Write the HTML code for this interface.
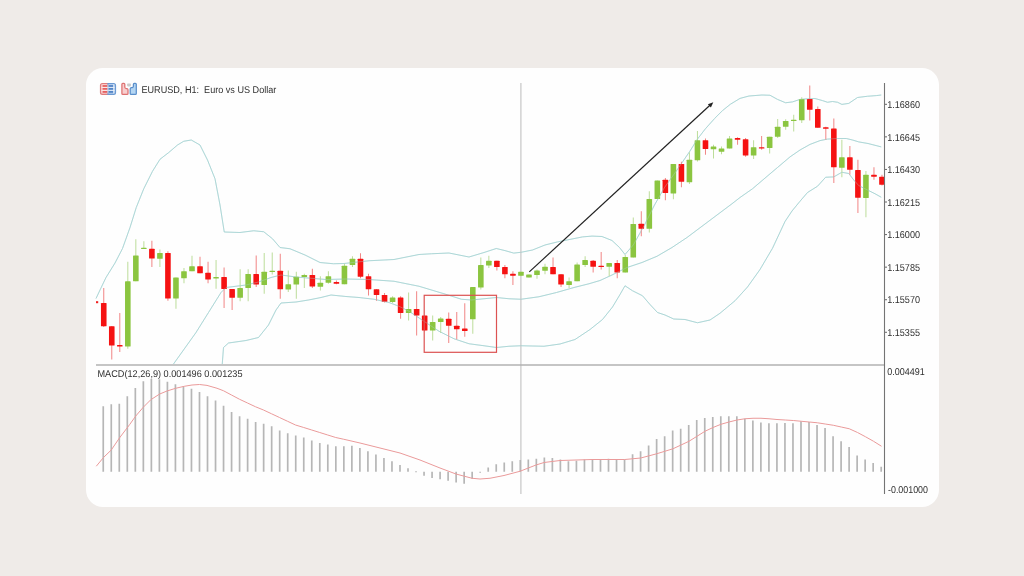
<!DOCTYPE html>
<html><head><meta charset="utf-8"><title>EURUSD H1</title>
<style>
html,body{margin:0;padding:0;}
body{width:1024px;height:576px;background:#efebe8;position:relative;overflow:hidden;font-family:"Liberation Sans",sans-serif;}
.card{position:absolute;left:86px;top:68px;width:853px;height:439px;background:#fefefe;border-radius:17px;}
text{font-family:"Liberation Sans",sans-serif;text-rendering:geometricPrecision;}
.ax{font-size:10px;fill:#303030;}
.hd{font-size:9.8px;fill:#303030;}
</style></head><body>
<div class="card"></div>
<svg width="1024" height="576" viewBox="0 0 1024 576" style="position:absolute;left:0;top:0;filter:blur(0.3px)">
<polyline points="96.00,298.50 100.00,290.00 106.00,277.50 115.00,263.00 122.50,248.50 130.00,227.50 136.25,207.50 143.75,188.75 152.50,171.25 160.00,159.25 168.75,152.50 177.50,145.00 183.75,141.25 191.25,140.00 200.00,145.00 207.50,160.00 215.00,178.75 220.00,205.00 224.25,232.00 240.00,232.50 253.75,230.75 263.75,231.75 272.50,238.75 280.00,247.50 290.00,248.75 305.00,255.00 320.00,262.50 333.50,263.75 344.00,263.50 369.00,260.75 394.00,259.50 419.00,254.50 431.50,253.75 449.00,253.00 469.00,257.00 484.00,252.50 496.25,248.50 505.00,250.60 513.75,253.10 521.25,252.25 532.50,250.00 545.00,245.00 557.50,241.90 570.00,239.40 582.50,236.90 592.00,236.10 602.00,236.50 612.00,240.50 619.50,247.50 625.00,254.50 633.25,245.00 644.50,225.00 654.50,205.00 664.50,187.50 677.00,170.00 690.00,151.00 697.50,139.00 705.30,128.90 714.70,118.40 722.50,110.60 730.30,104.30 740.00,98.40 749.00,96.00 762.00,95.00 770.00,95.25 777.50,99.40 785.60,102.75 792.50,101.90 800.00,99.40 807.50,98.75 815.00,98.50 822.50,100.60 827.50,102.25 832.50,101.50 837.50,102.25 841.90,104.40 848.75,103.40 857.50,97.50 867.50,96.25 876.25,95.60 881.25,95.00" fill="none" stroke="#a6d3d3" stroke-width="0.85" stroke-linejoin="round"/>
<polyline points="173.50,364.00 196.00,332.50 208.50,312.50 221.00,292.50 226.00,287.50 236.00,286.25 246.00,285.00 258.50,282.00 271.00,277.50 281.00,275.00 296.00,277.00 311.00,278.25 326.00,279.50 346.00,279.00 369.00,279.50 394.00,281.25 419.00,286.25 444.00,293.75 461.50,299.25 471.50,300.00 484.00,298.75 496.50,297.50 509.00,298.75 521.00,299.25 539.00,296.75 556.50,292.50 574.00,287.50 589.00,283.75 600.00,280.50 612.00,275.00 627.00,267.50 642.00,262.50 657.00,256.25 672.00,247.50 687.00,237.50 702.00,226.25 717.00,215.00 732.00,203.75 740.00,197.50 752.50,188.75 765.00,178.10 777.50,167.50 790.00,156.90 800.00,150.00 810.00,144.40 820.00,140.60 827.50,139.10 837.50,138.50 846.25,138.50 852.50,140.00 858.75,141.90 868.00,143.50 881.25,146.90" fill="none" stroke="#a6d3d3" stroke-width="0.85" stroke-linejoin="round"/>
<polyline points="222.25,364.00 223.50,347.50 228.50,343.00 246.00,340.50 258.50,337.50 268.50,325.00 276.00,310.00 281.00,303.00 296.00,302.00 308.50,300.00 321.00,297.50 331.00,295.00 346.00,296.50 359.00,297.50 374.00,299.25 389.00,302.50 399.00,306.25 409.00,311.25 424.00,321.25 439.00,331.25 454.00,338.75 469.00,343.75 484.00,345.75 496.50,347.50 509.00,346.25 521.00,345.75 544.00,346.25 560.00,344.00 575.00,339.50 590.00,329.50 602.50,319.50 612.50,307.00 620.00,294.50 625.00,285.75 632.50,290.75 642.50,295.75 650.00,304.50 657.50,312.50 665.00,315.00 673.75,319.00 685.00,319.50 697.50,322.75 710.00,320.00 720.00,313.25 735.00,300.75 747.50,287.00 760.00,269.50 772.50,248.25 785.00,221.50 792.00,211.00 800.00,201.25 807.50,192.50 817.50,186.25 825.60,177.25 833.75,176.90 841.90,172.25 848.75,173.50 853.75,180.00 858.75,185.60 867.50,190.00 875.00,193.75 881.25,197.25" fill="none" stroke="#a6d3d3" stroke-width="0.85" stroke-linejoin="round"/>
<line x1="520.9" y1="83" x2="520.9" y2="494" stroke="#c2c2c2" stroke-width="1.1"/>
<line x1="103.75" y1="288" x2="103.75" y2="327" stroke="#f18585" stroke-width="1"/>
<rect x="100.95" y="303" width="5.6" height="23.25" fill="#f51212" rx="0.6"/>
<line x1="111.77" y1="326" x2="111.77" y2="359.5" stroke="#f18585" stroke-width="1"/>
<rect x="108.97" y="326.25" width="5.6" height="19.25" fill="#f51212" rx="0.6"/>
<line x1="119.80" y1="313" x2="119.80" y2="352" stroke="#f18585" stroke-width="1"/>
<rect x="117.00" y="345" width="5.6" height="1.50" fill="#f51212" rx="0.6"/>
<line x1="127.82" y1="261.75" x2="127.82" y2="348.75" stroke="#bcdd9a" stroke-width="1"/>
<rect x="125.02" y="281.25" width="5.6" height="65.25" fill="#8bc540" rx="0.6"/>
<line x1="135.84" y1="239.25" x2="135.84" y2="281.25" stroke="#bcdd9a" stroke-width="1"/>
<rect x="133.04" y="255.5" width="5.6" height="25.75" fill="#8bc540" rx="0.6"/>
<line x1="143.87" y1="241.25" x2="143.87" y2="249" stroke="#bcdd9a" stroke-width="1"/>
<rect x="141.06" y="247.75" width="5.6" height="1.25" fill="#8bc540" rx="0.6"/>
<line x1="151.89" y1="240.75" x2="151.89" y2="267" stroke="#f18585" stroke-width="1"/>
<rect x="149.09" y="248.75" width="5.6" height="9.75" fill="#f51212" rx="0.6"/>
<line x1="159.91" y1="249.5" x2="159.91" y2="267" stroke="#bcdd9a" stroke-width="1"/>
<rect x="157.11" y="253" width="5.6" height="5.75" fill="#8bc540" rx="0.6"/>
<line x1="167.93" y1="251.25" x2="167.93" y2="300.75" stroke="#f18585" stroke-width="1"/>
<rect x="165.13" y="253" width="5.6" height="45.50" fill="#f51212" rx="0.6"/>
<line x1="175.96" y1="277.5" x2="175.96" y2="308.75" stroke="#bcdd9a" stroke-width="1"/>
<rect x="173.16" y="277.5" width="5.6" height="21.00" fill="#8bc540" rx="0.6"/>
<line x1="183.98" y1="268" x2="183.98" y2="283.25" stroke="#bcdd9a" stroke-width="1"/>
<rect x="181.18" y="271.25" width="5.6" height="7.00" fill="#8bc540" rx="0.6"/>
<line x1="192.00" y1="255.75" x2="192.00" y2="271.25" stroke="#bcdd9a" stroke-width="1"/>
<rect x="189.20" y="266.25" width="5.6" height="5.00" fill="#8bc540" rx="0.6"/>
<line x1="200.03" y1="256.75" x2="200.03" y2="273.25" stroke="#f18585" stroke-width="1"/>
<rect x="197.23" y="266.25" width="5.6" height="7.00" fill="#f51212" rx="0.6"/>
<line x1="208.05" y1="261.75" x2="208.05" y2="283.25" stroke="#f18585" stroke-width="1"/>
<rect x="205.25" y="272.75" width="5.6" height="6.75" fill="#f51212" rx="0.6"/>
<line x1="216.07" y1="260" x2="216.07" y2="288.75" stroke="#bcdd9a" stroke-width="1"/>
<rect x="213.27" y="277" width="5.6" height="1.50" fill="#8bc540" rx="0.6"/>
<line x1="224.09" y1="267.5" x2="224.09" y2="308" stroke="#f18585" stroke-width="1"/>
<rect x="221.29" y="277" width="5.6" height="12.00" fill="#f51212" rx="0.6"/>
<line x1="232.12" y1="289" x2="232.12" y2="310" stroke="#f18585" stroke-width="1"/>
<rect x="229.32" y="289" width="5.6" height="8.75" fill="#f51212" rx="0.6"/>
<line x1="240.14" y1="269.25" x2="240.14" y2="301.25" stroke="#bcdd9a" stroke-width="1"/>
<rect x="237.34" y="288" width="5.6" height="9.75" fill="#8bc540" rx="0.6"/>
<line x1="248.16" y1="269.25" x2="248.16" y2="301.25" stroke="#bcdd9a" stroke-width="1"/>
<rect x="245.36" y="274" width="5.6" height="14.00" fill="#8bc540" rx="0.6"/>
<line x1="256.19" y1="255.5" x2="256.19" y2="287" stroke="#f18585" stroke-width="1"/>
<rect x="253.39" y="274" width="5.6" height="10.50" fill="#f51212" rx="0.6"/>
<line x1="264.21" y1="253" x2="264.21" y2="293.75" stroke="#bcdd9a" stroke-width="1"/>
<rect x="261.41" y="271.75" width="5.6" height="13.25" fill="#8bc540" rx="0.6"/>
<line x1="272.23" y1="252.5" x2="272.23" y2="274.5" stroke="#bcdd9a" stroke-width="1"/>
<rect x="269.43" y="270.75" width="5.6" height="1.25" fill="#8bc540" rx="0.6"/>
<line x1="280.26" y1="253.75" x2="280.26" y2="298.75" stroke="#f18585" stroke-width="1"/>
<rect x="277.46" y="270.75" width="5.6" height="18.50" fill="#f51212" rx="0.6"/>
<line x1="288.28" y1="270.5" x2="288.28" y2="292" stroke="#bcdd9a" stroke-width="1"/>
<rect x="285.48" y="284.25" width="5.6" height="5.25" fill="#8bc540" rx="0.6"/>
<line x1="296.30" y1="271.75" x2="296.30" y2="298.75" stroke="#bcdd9a" stroke-width="1"/>
<rect x="293.50" y="276.75" width="5.6" height="7.75" fill="#8bc540" rx="0.6"/>
<line x1="304.32" y1="273.75" x2="304.32" y2="288" stroke="#bcdd9a" stroke-width="1"/>
<rect x="301.52" y="275" width="5.6" height="2.00" fill="#8bc540" rx="0.6"/>
<line x1="312.35" y1="268.75" x2="312.35" y2="288" stroke="#f18585" stroke-width="1"/>
<rect x="309.55" y="275" width="5.6" height="11.50" fill="#f51212" rx="0.6"/>
<line x1="320.37" y1="276.25" x2="320.37" y2="290.5" stroke="#bcdd9a" stroke-width="1"/>
<rect x="317.57" y="282.75" width="5.6" height="4.00" fill="#8bc540" rx="0.6"/>
<line x1="328.39" y1="271.25" x2="328.39" y2="283.75" stroke="#bcdd9a" stroke-width="1"/>
<rect x="325.59" y="276.25" width="5.6" height="6.50" fill="#8bc540" rx="0.6"/>
<line x1="336.42" y1="280.5" x2="336.42" y2="284.25" stroke="#f18585" stroke-width="1"/>
<rect x="333.62" y="282" width="5.6" height="1.75" fill="#f51212" rx="0.6"/>
<line x1="344.44" y1="263.75" x2="344.44" y2="284.25" stroke="#bcdd9a" stroke-width="1"/>
<rect x="341.64" y="265.75" width="5.6" height="18.50" fill="#8bc540" rx="0.6"/>
<line x1="352.46" y1="256.25" x2="352.46" y2="267" stroke="#bcdd9a" stroke-width="1"/>
<rect x="349.66" y="258.75" width="5.6" height="6.25" fill="#8bc540" rx="0.6"/>
<line x1="360.49" y1="253.25" x2="360.49" y2="278.25" stroke="#f18585" stroke-width="1"/>
<rect x="357.69" y="258.75" width="5.6" height="18.00" fill="#f51212" rx="0.6"/>
<line x1="368.51" y1="273.75" x2="368.51" y2="295.5" stroke="#f18585" stroke-width="1"/>
<rect x="365.71" y="276.25" width="5.6" height="13.00" fill="#f51212" rx="0.6"/>
<line x1="376.53" y1="289.25" x2="376.53" y2="300.75" stroke="#f18585" stroke-width="1"/>
<rect x="373.73" y="289.25" width="5.6" height="5.75" fill="#f51212" rx="0.6"/>
<line x1="384.56" y1="293" x2="384.56" y2="302.5" stroke="#f18585" stroke-width="1"/>
<rect x="381.75" y="295" width="5.6" height="6.75" fill="#f51212" rx="0.6"/>
<line x1="392.58" y1="296.25" x2="392.58" y2="303" stroke="#bcdd9a" stroke-width="1"/>
<rect x="389.78" y="297.5" width="5.6" height="4.50" fill="#8bc540" rx="0.6"/>
<line x1="400.60" y1="296.25" x2="400.60" y2="318.75" stroke="#f18585" stroke-width="1"/>
<rect x="397.80" y="297.5" width="5.6" height="15.50" fill="#f51212" rx="0.6"/>
<line x1="408.62" y1="292.5" x2="408.62" y2="320.5" stroke="#bcdd9a" stroke-width="1"/>
<rect x="405.82" y="309" width="5.6" height="4.00" fill="#8bc540" rx="0.6"/>
<line x1="416.65" y1="291.25" x2="416.65" y2="335.5" stroke="#f18585" stroke-width="1"/>
<rect x="413.85" y="309" width="5.6" height="6.50" fill="#f51212" rx="0.6"/>
<line x1="424.67" y1="315.5" x2="424.67" y2="331.25" stroke="#f18585" stroke-width="1"/>
<rect x="421.87" y="315.5" width="5.6" height="15.00" fill="#f51212" rx="0.6"/>
<line x1="432.69" y1="315.5" x2="432.69" y2="340.5" stroke="#bcdd9a" stroke-width="1"/>
<rect x="429.89" y="322" width="5.6" height="8.50" fill="#8bc540" rx="0.6"/>
<line x1="440.72" y1="317" x2="440.72" y2="333" stroke="#bcdd9a" stroke-width="1"/>
<rect x="437.92" y="318.5" width="5.6" height="3.50" fill="#8bc540" rx="0.6"/>
<line x1="448.74" y1="312.5" x2="448.74" y2="343" stroke="#f18585" stroke-width="1"/>
<rect x="445.94" y="318.75" width="5.6" height="7.00" fill="#f51212" rx="0.6"/>
<line x1="456.76" y1="312" x2="456.76" y2="339.5" stroke="#f18585" stroke-width="1"/>
<rect x="453.96" y="325.75" width="5.6" height="3.50" fill="#f51212" rx="0.6"/>
<line x1="464.78" y1="303.25" x2="464.78" y2="336.75" stroke="#f18585" stroke-width="1"/>
<rect x="461.98" y="328.5" width="5.6" height="2.50" fill="#f51212" rx="0.6"/>
<line x1="472.81" y1="287" x2="472.81" y2="333.75" stroke="#bcdd9a" stroke-width="1"/>
<rect x="470.01" y="287" width="5.6" height="32.25" fill="#8bc540" rx="0.6"/>
<line x1="480.83" y1="257.5" x2="480.83" y2="289.5" stroke="#bcdd9a" stroke-width="1"/>
<rect x="478.03" y="265" width="5.6" height="22.50" fill="#8bc540" rx="0.6"/>
<line x1="488.85" y1="255.75" x2="488.85" y2="268" stroke="#bcdd9a" stroke-width="1"/>
<rect x="486.05" y="260.75" width="5.6" height="4.75" fill="#8bc540" rx="0.6"/>
<line x1="496.88" y1="260.75" x2="496.88" y2="270.5" stroke="#f18585" stroke-width="1"/>
<rect x="494.08" y="260.75" width="5.6" height="6.25" fill="#f51212" rx="0.6"/>
<line x1="504.90" y1="265" x2="504.90" y2="278.25" stroke="#f18585" stroke-width="1"/>
<rect x="502.10" y="267" width="5.6" height="7.25" fill="#f51212" rx="0.6"/>
<line x1="512.92" y1="271.25" x2="512.92" y2="285" stroke="#f18585" stroke-width="1"/>
<rect x="510.12" y="273.75" width="5.6" height="2.00" fill="#f51212" rx="0.6"/>
<line x1="520.95" y1="271.75" x2="520.95" y2="276.25" stroke="#bcdd9a" stroke-width="1"/>
<rect x="518.15" y="271.75" width="5.6" height="4.00" fill="#8bc540" rx="0.6"/>
<line x1="528.97" y1="274.5" x2="528.97" y2="277.5" stroke="#bcdd9a" stroke-width="1"/>
<rect x="526.17" y="274.5" width="5.6" height="3.00" fill="#8bc540" rx="0.6"/>
<line x1="536.99" y1="269.5" x2="536.99" y2="278.75" stroke="#bcdd9a" stroke-width="1"/>
<rect x="534.19" y="270.5" width="5.6" height="4.50" fill="#8bc540" rx="0.6"/>
<line x1="545.01" y1="263.75" x2="545.01" y2="274.25" stroke="#bcdd9a" stroke-width="1"/>
<rect x="542.22" y="266.75" width="5.6" height="4.00" fill="#8bc540" rx="0.6"/>
<line x1="553.04" y1="257.5" x2="553.04" y2="274.25" stroke="#f18585" stroke-width="1"/>
<rect x="550.24" y="267" width="5.6" height="7.25" fill="#f51212" rx="0.6"/>
<line x1="561.06" y1="274.25" x2="561.06" y2="287" stroke="#f18585" stroke-width="1"/>
<rect x="558.26" y="274.25" width="5.6" height="10.25" fill="#f51212" rx="0.6"/>
<line x1="569.08" y1="277.5" x2="569.08" y2="288" stroke="#bcdd9a" stroke-width="1"/>
<rect x="566.28" y="281.25" width="5.6" height="3.75" fill="#8bc540" rx="0.6"/>
<line x1="577.11" y1="262.5" x2="577.11" y2="281.25" stroke="#bcdd9a" stroke-width="1"/>
<rect x="574.31" y="264.5" width="5.6" height="16.75" fill="#8bc540" rx="0.6"/>
<line x1="585.13" y1="256.25" x2="585.13" y2="267" stroke="#bcdd9a" stroke-width="1"/>
<rect x="582.33" y="260" width="5.6" height="5.00" fill="#8bc540" rx="0.6"/>
<line x1="593.15" y1="260" x2="593.15" y2="272.5" stroke="#f18585" stroke-width="1"/>
<rect x="590.35" y="260.75" width="5.6" height="6.00" fill="#f51212" rx="0.6"/>
<line x1="601.18" y1="252" x2="601.18" y2="269.5" stroke="#f18585" stroke-width="1"/>
<rect x="598.38" y="265.75" width="5.6" height="1.25" fill="#f51212" rx="0.6"/>
<line x1="609.20" y1="263" x2="609.20" y2="276.25" stroke="#bcdd9a" stroke-width="1"/>
<rect x="606.40" y="263" width="5.6" height="3.75" fill="#8bc540" rx="0.6"/>
<line x1="617.22" y1="260" x2="617.22" y2="278.25" stroke="#f18585" stroke-width="1"/>
<rect x="614.42" y="263" width="5.6" height="9.50" fill="#f51212" rx="0.6"/>
<line x1="625.25" y1="255" x2="625.25" y2="272.5" stroke="#bcdd9a" stroke-width="1"/>
<rect x="622.45" y="257" width="5.6" height="15.50" fill="#8bc540" rx="0.6"/>
<line x1="633.27" y1="217.5" x2="633.27" y2="257.5" stroke="#bcdd9a" stroke-width="1"/>
<rect x="630.47" y="224" width="5.6" height="33.50" fill="#8bc540" rx="0.6"/>
<line x1="641.29" y1="211.25" x2="641.29" y2="236.25" stroke="#f18585" stroke-width="1"/>
<rect x="638.49" y="223.75" width="5.6" height="5.00" fill="#f51212" rx="0.6"/>
<line x1="649.31" y1="191.25" x2="649.31" y2="232.5" stroke="#bcdd9a" stroke-width="1"/>
<rect x="646.51" y="199" width="5.6" height="29.75" fill="#8bc540" rx="0.6"/>
<line x1="657.34" y1="180.5" x2="657.34" y2="199" stroke="#bcdd9a" stroke-width="1"/>
<rect x="654.54" y="180.5" width="5.6" height="18.50" fill="#8bc540" rx="0.6"/>
<line x1="665.36" y1="178" x2="665.36" y2="200.25" stroke="#f18585" stroke-width="1"/>
<rect x="662.56" y="179.75" width="5.6" height="13.25" fill="#f51212" rx="0.6"/>
<line x1="673.38" y1="164" x2="673.38" y2="199.25" stroke="#bcdd9a" stroke-width="1"/>
<rect x="670.58" y="164" width="5.6" height="29.50" fill="#8bc540" rx="0.6"/>
<line x1="681.41" y1="161.75" x2="681.41" y2="187.25" stroke="#f18585" stroke-width="1"/>
<rect x="678.61" y="164" width="5.6" height="17.75" fill="#f51212" rx="0.6"/>
<line x1="689.43" y1="152.25" x2="689.43" y2="184" stroke="#bcdd9a" stroke-width="1"/>
<rect x="686.63" y="159.75" width="5.6" height="22.50" fill="#8bc540" rx="0.6"/>
<line x1="697.45" y1="131" x2="697.45" y2="161.5" stroke="#bcdd9a" stroke-width="1"/>
<rect x="694.65" y="140.25" width="5.6" height="20.00" fill="#8bc540" rx="0.6"/>
<line x1="705.48" y1="138.5" x2="705.48" y2="154.75" stroke="#f18585" stroke-width="1"/>
<rect x="702.68" y="140.25" width="5.6" height="8.75" fill="#f51212" rx="0.6"/>
<line x1="713.50" y1="144.75" x2="713.50" y2="158.5" stroke="#bcdd9a" stroke-width="1"/>
<rect x="710.70" y="146.5" width="5.6" height="2.75" fill="#8bc540" rx="0.6"/>
<line x1="721.52" y1="146.5" x2="721.52" y2="154.25" stroke="#bcdd9a" stroke-width="1"/>
<rect x="718.72" y="148.5" width="5.6" height="3.25" fill="#8bc540" rx="0.6"/>
<line x1="729.54" y1="136" x2="729.54" y2="148.5" stroke="#bcdd9a" stroke-width="1"/>
<rect x="726.74" y="138.5" width="5.6" height="10.00" fill="#8bc540" rx="0.6"/>
<line x1="737.57" y1="137.25" x2="737.57" y2="144.75" stroke="#f18585" stroke-width="1"/>
<rect x="734.77" y="138" width="5.6" height="1.75" fill="#f51212" rx="0.6"/>
<line x1="745.59" y1="138" x2="745.59" y2="156.75" stroke="#f18585" stroke-width="1"/>
<rect x="742.79" y="139.25" width="5.6" height="16.25" fill="#f51212" rx="0.6"/>
<line x1="753.61" y1="140.25" x2="753.61" y2="159" stroke="#bcdd9a" stroke-width="1"/>
<rect x="750.81" y="147.25" width="5.6" height="8.25" fill="#8bc540" rx="0.6"/>
<line x1="761.64" y1="136" x2="761.64" y2="149.75" stroke="#f18585" stroke-width="1"/>
<rect x="758.84" y="147.25" width="5.6" height="1.25" fill="#f51212" rx="0.6"/>
<line x1="769.66" y1="136.75" x2="769.66" y2="153.5" stroke="#bcdd9a" stroke-width="1"/>
<rect x="766.86" y="136.75" width="5.6" height="11.25" fill="#8bc540" rx="0.6"/>
<line x1="777.68" y1="119" x2="777.68" y2="138" stroke="#bcdd9a" stroke-width="1"/>
<rect x="774.88" y="126.75" width="5.6" height="10.00" fill="#8bc540" rx="0.6"/>
<line x1="785.70" y1="119.25" x2="785.70" y2="129.75" stroke="#bcdd9a" stroke-width="1"/>
<rect x="782.90" y="121" width="5.6" height="5.75" fill="#8bc540" rx="0.6"/>
<line x1="793.73" y1="114.75" x2="793.73" y2="131.5" stroke="#bcdd9a" stroke-width="1"/>
<rect x="790.93" y="119.75" width="5.6" height="1.25" fill="#8bc540" rx="0.6"/>
<line x1="801.75" y1="97.25" x2="801.75" y2="123" stroke="#bcdd9a" stroke-width="1"/>
<rect x="798.95" y="99" width="5.6" height="21.25" fill="#8bc540" rx="0.6"/>
<line x1="809.77" y1="85.5" x2="809.77" y2="120.5" stroke="#f18585" stroke-width="1"/>
<rect x="806.97" y="99" width="5.6" height="10.75" fill="#f51212" rx="0.6"/>
<line x1="817.80" y1="106.5" x2="817.80" y2="127.75" stroke="#f18585" stroke-width="1"/>
<rect x="815.00" y="109" width="5.6" height="18.75" fill="#f51212" rx="0.6"/>
<line x1="825.82" y1="126.75" x2="825.82" y2="139.75" stroke="#f18585" stroke-width="1"/>
<rect x="823.02" y="127.25" width="5.6" height="1.50" fill="#f51212" rx="0.6"/>
<line x1="833.84" y1="118.5" x2="833.84" y2="183" stroke="#f18585" stroke-width="1"/>
<rect x="831.04" y="128.5" width="5.6" height="38.75" fill="#f51212" rx="0.6"/>
<line x1="841.87" y1="139.75" x2="841.87" y2="177.25" stroke="#bcdd9a" stroke-width="1"/>
<rect x="839.07" y="157.25" width="5.6" height="10.50" fill="#8bc540" rx="0.6"/>
<line x1="849.89" y1="146" x2="849.89" y2="174.75" stroke="#f18585" stroke-width="1"/>
<rect x="847.09" y="157.25" width="5.6" height="12.50" fill="#f51212" rx="0.6"/>
<line x1="857.91" y1="159.75" x2="857.91" y2="213" stroke="#f18585" stroke-width="1"/>
<rect x="855.11" y="170" width="5.6" height="27.75" fill="#f51212" rx="0.6"/>
<line x1="865.93" y1="171" x2="865.93" y2="217.25" stroke="#bcdd9a" stroke-width="1"/>
<rect x="863.13" y="174.75" width="5.6" height="23.25" fill="#8bc540" rx="0.6"/>
<line x1="873.96" y1="167.25" x2="873.96" y2="179.75" stroke="#f18585" stroke-width="1"/>
<rect x="871.16" y="174.75" width="5.6" height="2.00" fill="#f51212" rx="0.6"/>
<line x1="881.98" y1="174.75" x2="881.98" y2="185.5" stroke="#f18585" stroke-width="1"/>
<rect x="879.18" y="176.75" width="5.6" height="8.00" fill="#f51212" rx="0.6"/>
<polyline points="96.00,298.50 100.00,290.00 106.00,277.50 115.00,263.00 122.50,248.50 130.00,227.50 136.25,207.50 143.75,188.75 152.50,171.25 160.00,159.25 168.75,152.50 177.50,145.00 183.75,141.25 191.25,140.00 200.00,145.00 207.50,160.00 215.00,178.75 220.00,205.00 224.25,232.00 240.00,232.50 253.75,230.75 263.75,231.75 272.50,238.75 280.00,247.50 290.00,248.75 305.00,255.00 320.00,262.50 333.50,263.75 344.00,263.50 369.00,260.75 394.00,259.50 419.00,254.50 431.50,253.75 449.00,253.00 469.00,257.00 484.00,252.50 496.25,248.50 505.00,250.60 513.75,253.10 521.25,252.25 532.50,250.00 545.00,245.00 557.50,241.90 570.00,239.40 582.50,236.90 592.00,236.10 602.00,236.50 612.00,240.50 619.50,247.50 625.00,254.50 633.25,245.00 644.50,225.00 654.50,205.00 664.50,187.50 677.00,170.00 690.00,151.00 697.50,139.00 705.30,128.90 714.70,118.40 722.50,110.60 730.30,104.30 740.00,98.40 749.00,96.00 762.00,95.00 770.00,95.25 777.50,99.40 785.60,102.75 792.50,101.90 800.00,99.40 807.50,98.75 815.00,98.50 822.50,100.60 827.50,102.25 832.50,101.50 837.50,102.25 841.90,104.40 848.75,103.40 857.50,97.50 867.50,96.25 876.25,95.60 881.25,95.00" fill="none" stroke="#a6d3d3" stroke-opacity="0.45" stroke-width="0.85" stroke-linejoin="round"/>
<polyline points="173.50,364.00 196.00,332.50 208.50,312.50 221.00,292.50 226.00,287.50 236.00,286.25 246.00,285.00 258.50,282.00 271.00,277.50 281.00,275.00 296.00,277.00 311.00,278.25 326.00,279.50 346.00,279.00 369.00,279.50 394.00,281.25 419.00,286.25 444.00,293.75 461.50,299.25 471.50,300.00 484.00,298.75 496.50,297.50 509.00,298.75 521.00,299.25 539.00,296.75 556.50,292.50 574.00,287.50 589.00,283.75 600.00,280.50 612.00,275.00 627.00,267.50 642.00,262.50 657.00,256.25 672.00,247.50 687.00,237.50 702.00,226.25 717.00,215.00 732.00,203.75 740.00,197.50 752.50,188.75 765.00,178.10 777.50,167.50 790.00,156.90 800.00,150.00 810.00,144.40 820.00,140.60 827.50,139.10 837.50,138.50 846.25,138.50 852.50,140.00 858.75,141.90 868.00,143.50 881.25,146.90" fill="none" stroke="#a6d3d3" stroke-opacity="0.45" stroke-width="0.85" stroke-linejoin="round"/>
<polyline points="222.25,364.00 223.50,347.50 228.50,343.00 246.00,340.50 258.50,337.50 268.50,325.00 276.00,310.00 281.00,303.00 296.00,302.00 308.50,300.00 321.00,297.50 331.00,295.00 346.00,296.50 359.00,297.50 374.00,299.25 389.00,302.50 399.00,306.25 409.00,311.25 424.00,321.25 439.00,331.25 454.00,338.75 469.00,343.75 484.00,345.75 496.50,347.50 509.00,346.25 521.00,345.75 544.00,346.25 560.00,344.00 575.00,339.50 590.00,329.50 602.50,319.50 612.50,307.00 620.00,294.50 625.00,285.75 632.50,290.75 642.50,295.75 650.00,304.50 657.50,312.50 665.00,315.00 673.75,319.00 685.00,319.50 697.50,322.75 710.00,320.00 720.00,313.25 735.00,300.75 747.50,287.00 760.00,269.50 772.50,248.25 785.00,221.50 792.00,211.00 800.00,201.25 807.50,192.50 817.50,186.25 825.60,177.25 833.75,176.90 841.90,172.25 848.75,173.50 853.75,180.00 858.75,185.60 867.50,190.00 875.00,193.75 881.25,197.25" fill="none" stroke="#a6d3d3" stroke-opacity="0.45" stroke-width="0.85" stroke-linejoin="round"/>
<rect x="96" y="301.2" width="2.2" height="2" fill="#f02020"/>
<rect x="424.2" y="295.3" width="72.3" height="57" fill="none" stroke="#dc5252" stroke-width="1.2"/>
<line x1="529.3" y1="271.9" x2="710.2" y2="105" stroke="#222" stroke-width="1.2"/>
<polygon points="713.3,102.2 707.9,104.2 710.9,107.5" fill="#222"/>
<line x1="96" y1="365" x2="884.5" y2="365" stroke="#b2b2b2" stroke-width="1.7"/>
<line x1="884.5" y1="83" x2="884.5" y2="494" stroke="#747474" stroke-width="1.1"/>
<line x1="885" y1="104.30" x2="887" y2="104.30" stroke="#666" stroke-width="1"/>
<text x="887.2" y="108.00" class="ax" textLength="32.8" lengthAdjust="spacingAndGlyphs">1.16860</text>
<line x1="885" y1="136.87" x2="887" y2="136.87" stroke="#666" stroke-width="1"/>
<text x="887.2" y="140.57" class="ax" textLength="32.8" lengthAdjust="spacingAndGlyphs">1.16645</text>
<line x1="885" y1="169.44" x2="887" y2="169.44" stroke="#666" stroke-width="1"/>
<text x="887.2" y="173.14" class="ax" textLength="32.8" lengthAdjust="spacingAndGlyphs">1.16430</text>
<line x1="885" y1="202.01" x2="887" y2="202.01" stroke="#666" stroke-width="1"/>
<text x="887.2" y="205.71" class="ax" textLength="32.8" lengthAdjust="spacingAndGlyphs">1.16215</text>
<line x1="885" y1="234.58" x2="887" y2="234.58" stroke="#666" stroke-width="1"/>
<text x="887.2" y="238.28" class="ax" textLength="32.8" lengthAdjust="spacingAndGlyphs">1.16000</text>
<line x1="885" y1="267.15" x2="887" y2="267.15" stroke="#666" stroke-width="1"/>
<text x="887.2" y="270.85" class="ax" textLength="32.8" lengthAdjust="spacingAndGlyphs">1.15785</text>
<line x1="885" y1="299.72" x2="887" y2="299.72" stroke="#666" stroke-width="1"/>
<text x="887.2" y="303.42" class="ax" textLength="32.8" lengthAdjust="spacingAndGlyphs">1.15570</text>
<line x1="885" y1="332.29" x2="887" y2="332.29" stroke="#666" stroke-width="1"/>
<text x="887.2" y="335.99" class="ax" textLength="32.8" lengthAdjust="spacingAndGlyphs">1.15355</text>
<text x="887.3" y="375" class="ax" textLength="37.5" lengthAdjust="spacingAndGlyphs">0.004491</text>
<text x="888" y="493.3" class="ax" textLength="40" lengthAdjust="spacingAndGlyphs">-0.001000</text>
<line x1="103.25" y1="406.25" x2="103.25" y2="471.75" stroke="#b6b6b6" stroke-width="1.7"/>
<line x1="111.27" y1="404.25" x2="111.27" y2="471.75" stroke="#b6b6b6" stroke-width="1.7"/>
<line x1="119.29" y1="403.75" x2="119.29" y2="471.75" stroke="#b6b6b6" stroke-width="1.7"/>
<line x1="127.31" y1="396.25" x2="127.31" y2="471.75" stroke="#b6b6b6" stroke-width="1.7"/>
<line x1="135.33" y1="388" x2="135.33" y2="471.75" stroke="#b6b6b6" stroke-width="1.7"/>
<line x1="143.35" y1="381.25" x2="143.35" y2="471.75" stroke="#b6b6b6" stroke-width="1.7"/>
<line x1="151.37" y1="378.75" x2="151.37" y2="471.75" stroke="#b6b6b6" stroke-width="1.7"/>
<line x1="159.39" y1="379.25" x2="159.39" y2="471.75" stroke="#b6b6b6" stroke-width="1.7"/>
<line x1="167.41" y1="381.75" x2="167.41" y2="471.75" stroke="#b6b6b6" stroke-width="1.7"/>
<line x1="175.43" y1="384.25" x2="175.43" y2="471.75" stroke="#b6b6b6" stroke-width="1.7"/>
<line x1="183.45" y1="386.25" x2="183.45" y2="471.75" stroke="#b6b6b6" stroke-width="1.7"/>
<line x1="191.47" y1="388.75" x2="191.47" y2="471.75" stroke="#b6b6b6" stroke-width="1.7"/>
<line x1="199.49" y1="392" x2="199.49" y2="471.75" stroke="#b6b6b6" stroke-width="1.7"/>
<line x1="207.51" y1="396.25" x2="207.51" y2="471.75" stroke="#b6b6b6" stroke-width="1.7"/>
<line x1="215.53" y1="400.5" x2="215.53" y2="471.75" stroke="#b6b6b6" stroke-width="1.7"/>
<line x1="223.55" y1="405.75" x2="223.55" y2="471.75" stroke="#b6b6b6" stroke-width="1.7"/>
<line x1="231.57" y1="412" x2="231.57" y2="471.75" stroke="#b6b6b6" stroke-width="1.7"/>
<line x1="239.59" y1="416.25" x2="239.59" y2="471.75" stroke="#b6b6b6" stroke-width="1.7"/>
<line x1="247.61" y1="418.75" x2="247.61" y2="471.75" stroke="#b6b6b6" stroke-width="1.7"/>
<line x1="255.63" y1="422" x2="255.63" y2="471.75" stroke="#b6b6b6" stroke-width="1.7"/>
<line x1="263.65" y1="423.75" x2="263.65" y2="471.75" stroke="#b6b6b6" stroke-width="1.7"/>
<line x1="271.67" y1="426.25" x2="271.67" y2="471.75" stroke="#b6b6b6" stroke-width="1.7"/>
<line x1="279.69" y1="430.5" x2="279.69" y2="471.75" stroke="#b6b6b6" stroke-width="1.7"/>
<line x1="287.71" y1="433.25" x2="287.71" y2="471.75" stroke="#b6b6b6" stroke-width="1.7"/>
<line x1="295.73" y1="435.5" x2="295.73" y2="471.75" stroke="#b6b6b6" stroke-width="1.7"/>
<line x1="303.75" y1="437.5" x2="303.75" y2="471.75" stroke="#b6b6b6" stroke-width="1.7"/>
<line x1="311.77" y1="440.5" x2="311.77" y2="471.75" stroke="#b6b6b6" stroke-width="1.7"/>
<line x1="319.79" y1="443" x2="319.79" y2="471.75" stroke="#b6b6b6" stroke-width="1.7"/>
<line x1="327.81" y1="444.5" x2="327.81" y2="471.75" stroke="#b6b6b6" stroke-width="1.7"/>
<line x1="335.83" y1="446.25" x2="335.83" y2="471.75" stroke="#b6b6b6" stroke-width="1.7"/>
<line x1="343.85" y1="446.25" x2="343.85" y2="471.75" stroke="#b6b6b6" stroke-width="1.7"/>
<line x1="351.87" y1="445.75" x2="351.87" y2="471.75" stroke="#b6b6b6" stroke-width="1.7"/>
<line x1="359.89" y1="448" x2="359.89" y2="471.75" stroke="#b6b6b6" stroke-width="1.7"/>
<line x1="367.91" y1="451.25" x2="367.91" y2="471.75" stroke="#b6b6b6" stroke-width="1.7"/>
<line x1="375.93" y1="454.5" x2="375.93" y2="471.75" stroke="#b6b6b6" stroke-width="1.7"/>
<line x1="383.95" y1="458" x2="383.95" y2="471.75" stroke="#b6b6b6" stroke-width="1.7"/>
<line x1="391.97" y1="461.25" x2="391.97" y2="471.75" stroke="#b6b6b6" stroke-width="1.7"/>
<line x1="399.99" y1="465" x2="399.99" y2="471.75" stroke="#b6b6b6" stroke-width="1.7"/>
<line x1="408.01" y1="468.25" x2="408.01" y2="471.75" stroke="#b6b6b6" stroke-width="1.7"/>
<line x1="416.03" y1="471.25" x2="416.03" y2="472.25" stroke="#b6b6b6" stroke-width="1.7"/>
<line x1="424.05" y1="471.75" x2="424.05" y2="475.75" stroke="#b6b6b6" stroke-width="1.7"/>
<line x1="432.07" y1="471.75" x2="432.07" y2="478" stroke="#b6b6b6" stroke-width="1.7"/>
<line x1="440.09" y1="471.75" x2="440.09" y2="479.25" stroke="#b6b6b6" stroke-width="1.7"/>
<line x1="448.11" y1="471.75" x2="448.11" y2="480.75" stroke="#b6b6b6" stroke-width="1.7"/>
<line x1="456.13" y1="471.75" x2="456.13" y2="482.5" stroke="#b6b6b6" stroke-width="1.7"/>
<line x1="464.15" y1="471.75" x2="464.15" y2="483.75" stroke="#b6b6b6" stroke-width="1.7"/>
<line x1="472.17" y1="471.75" x2="472.17" y2="478.75" stroke="#b6b6b6" stroke-width="1.7"/>
<line x1="480.19" y1="471.75" x2="480.19" y2="472.75" stroke="#b6b6b6" stroke-width="1.7"/>
<line x1="488.21" y1="467.5" x2="488.21" y2="471.75" stroke="#b6b6b6" stroke-width="1.7"/>
<line x1="496.23" y1="464.25" x2="496.23" y2="471.75" stroke="#b6b6b6" stroke-width="1.7"/>
<line x1="504.25" y1="462.5" x2="504.25" y2="471.75" stroke="#b6b6b6" stroke-width="1.7"/>
<line x1="512.27" y1="461.25" x2="512.27" y2="471.75" stroke="#b6b6b6" stroke-width="1.7"/>
<line x1="520.29" y1="460" x2="520.29" y2="471.75" stroke="#b6b6b6" stroke-width="1.7"/>
<line x1="528.31" y1="459.5" x2="528.31" y2="471.75" stroke="#b6b6b6" stroke-width="1.7"/>
<line x1="536.33" y1="458.75" x2="536.33" y2="471.75" stroke="#b6b6b6" stroke-width="1.7"/>
<line x1="544.35" y1="457.5" x2="544.35" y2="471.75" stroke="#b6b6b6" stroke-width="1.7"/>
<line x1="552.37" y1="458" x2="552.37" y2="471.75" stroke="#b6b6b6" stroke-width="1.7"/>
<line x1="560.39" y1="459.5" x2="560.39" y2="471.75" stroke="#b6b6b6" stroke-width="1.7"/>
<line x1="568.41" y1="461.25" x2="568.41" y2="471.75" stroke="#b6b6b6" stroke-width="1.7"/>
<line x1="576.43" y1="460.75" x2="576.43" y2="471.75" stroke="#b6b6b6" stroke-width="1.7"/>
<line x1="584.45" y1="459.5" x2="584.45" y2="471.75" stroke="#b6b6b6" stroke-width="1.7"/>
<line x1="592.47" y1="459.5" x2="592.47" y2="471.75" stroke="#b6b6b6" stroke-width="1.7"/>
<line x1="600.49" y1="459.5" x2="600.49" y2="471.75" stroke="#b6b6b6" stroke-width="1.7"/>
<line x1="608.51" y1="458.75" x2="608.51" y2="471.75" stroke="#b6b6b6" stroke-width="1.7"/>
<line x1="616.53" y1="460" x2="616.53" y2="471.75" stroke="#b6b6b6" stroke-width="1.7"/>
<line x1="624.55" y1="459.5" x2="624.55" y2="471.75" stroke="#b6b6b6" stroke-width="1.7"/>
<line x1="632.57" y1="454.25" x2="632.57" y2="471.75" stroke="#b6b6b6" stroke-width="1.7"/>
<line x1="640.59" y1="451.25" x2="640.59" y2="471.75" stroke="#b6b6b6" stroke-width="1.7"/>
<line x1="648.61" y1="445.5" x2="648.61" y2="471.75" stroke="#b6b6b6" stroke-width="1.7"/>
<line x1="656.63" y1="439" x2="656.63" y2="471.75" stroke="#b6b6b6" stroke-width="1.7"/>
<line x1="664.65" y1="436.25" x2="664.65" y2="471.75" stroke="#b6b6b6" stroke-width="1.7"/>
<line x1="672.67" y1="430.5" x2="672.67" y2="471.75" stroke="#b6b6b6" stroke-width="1.7"/>
<line x1="680.69" y1="428.75" x2="680.69" y2="471.75" stroke="#b6b6b6" stroke-width="1.7"/>
<line x1="688.71" y1="425" x2="688.71" y2="471.75" stroke="#b6b6b6" stroke-width="1.7"/>
<line x1="696.73" y1="420" x2="696.73" y2="471.75" stroke="#b6b6b6" stroke-width="1.7"/>
<line x1="704.75" y1="418" x2="704.75" y2="471.75" stroke="#b6b6b6" stroke-width="1.7"/>
<line x1="712.77" y1="417" x2="712.77" y2="471.75" stroke="#b6b6b6" stroke-width="1.7"/>
<line x1="720.79" y1="416.25" x2="720.79" y2="471.75" stroke="#b6b6b6" stroke-width="1.7"/>
<line x1="728.81" y1="416.25" x2="728.81" y2="471.75" stroke="#b6b6b6" stroke-width="1.7"/>
<line x1="736.83" y1="416.25" x2="736.83" y2="471.75" stroke="#b6b6b6" stroke-width="1.7"/>
<line x1="744.85" y1="418.75" x2="744.85" y2="471.75" stroke="#b6b6b6" stroke-width="1.7"/>
<line x1="752.87" y1="420.5" x2="752.87" y2="471.75" stroke="#b6b6b6" stroke-width="1.7"/>
<line x1="760.89" y1="422.5" x2="760.89" y2="471.75" stroke="#b6b6b6" stroke-width="1.7"/>
<line x1="768.91" y1="423.25" x2="768.91" y2="471.75" stroke="#b6b6b6" stroke-width="1.7"/>
<line x1="776.93" y1="423.25" x2="776.93" y2="471.75" stroke="#b6b6b6" stroke-width="1.7"/>
<line x1="784.95" y1="423" x2="784.95" y2="471.75" stroke="#b6b6b6" stroke-width="1.7"/>
<line x1="792.97" y1="423.25" x2="792.97" y2="471.75" stroke="#b6b6b6" stroke-width="1.7"/>
<line x1="800.99" y1="421.25" x2="800.99" y2="471.75" stroke="#b6b6b6" stroke-width="1.7"/>
<line x1="809.01" y1="422" x2="809.01" y2="471.75" stroke="#b6b6b6" stroke-width="1.7"/>
<line x1="817.03" y1="425" x2="817.03" y2="471.75" stroke="#b6b6b6" stroke-width="1.7"/>
<line x1="825.05" y1="428" x2="825.05" y2="471.75" stroke="#b6b6b6" stroke-width="1.7"/>
<line x1="833.07" y1="436.25" x2="833.07" y2="471.75" stroke="#b6b6b6" stroke-width="1.7"/>
<line x1="841.09" y1="441.25" x2="841.09" y2="471.75" stroke="#b6b6b6" stroke-width="1.7"/>
<line x1="849.11" y1="447" x2="849.11" y2="471.75" stroke="#b6b6b6" stroke-width="1.7"/>
<line x1="857.13" y1="455.5" x2="857.13" y2="471.75" stroke="#b6b6b6" stroke-width="1.7"/>
<line x1="865.15" y1="459.5" x2="865.15" y2="471.75" stroke="#b6b6b6" stroke-width="1.7"/>
<line x1="873.17" y1="463" x2="873.17" y2="471.75" stroke="#b6b6b6" stroke-width="1.7"/>
<line x1="881.19" y1="466.75" x2="881.19" y2="471.75" stroke="#b6b6b6" stroke-width="1.7"/>
<polyline points="96.25,466.25 103.50,457.50 111.25,450.00 119.50,437.90 129.50,424.75 135.75,416.00 143.25,407.25 150.75,399.75 159.50,394.10 167.00,391.00 175.75,388.25 184.50,386.25 192.00,385.00 199.50,384.50 207.00,385.40 217.00,388.25 223.50,390.75 231.50,395.00 239.50,399.25 247.50,403.00 255.50,406.75 263.50,410.00 271.50,413.75 279.50,417.50 287.50,421.25 295.50,425.00 303.75,427.50 311.75,430.00 319.75,432.50 327.75,435.00 335.75,437.50 343.75,439.25 360.00,443.00 380.00,448.00 400.00,453.00 420.00,460.00 440.00,468.00 456.00,474.00 472.00,478.25 480.00,479.00 490.00,478.25 504.00,475.50 520.00,471.25 536.00,465.00 544.00,462.50 560.00,460.50 576.00,460.00 592.00,459.50 624.75,459.50 640.75,458.00 656.75,453.75 673.00,448.75 689.00,441.25 697.00,436.25 705.00,431.25 713.00,427.50 721.00,424.25 729.00,422.00 737.00,420.00 745.00,418.75 753.00,418.25 761.00,418.25 769.00,418.75 777.00,419.50 785.25,420.00 793.25,420.50 801.25,421.25 809.25,422.00 817.25,422.75 825.25,424.00 833.25,425.25 841.25,427.00 849.25,428.75 857.50,432.50 865.50,436.75 873.50,441.25 881.50,446.25" fill="none" stroke="#ea9a9a" stroke-width="1" stroke-linejoin="round"/>
<text x="141.5" y="92.6" class="hd" textLength="134.8" lengthAdjust="spacingAndGlyphs" xml:space="preserve">EURUSD, H1:  Euro vs US Dollar</text>
<text x="97.5" y="376.8" class="hd" textLength="145" lengthAdjust="spacingAndGlyphs">MACD(12,26,9) 0.001496 0.001235</text>
<g>
<path d="M108,83.5 H102.4 a1.9,1.9 0 0 0 -1.9,1.9 V92.5 a1.9,1.9 0 0 0 1.9,1.9 H108 z" fill="#f7cccc" stroke="#e07c7c" stroke-width="1.2"/>
<path d="M108,83.5 H113.6 a1.9,1.9 0 0 1 1.9,1.9 V92.5 a1.9,1.9 0 0 1 -1.9,1.9 H108 z" fill="#b4cdec" stroke="#6c9ad2" stroke-width="1.2"/>
<g stroke="#e45a5a" stroke-width="1.7"><line x1="102.6" y1="86" x2="107.3" y2="86"/><line x1="102.6" y1="88.9" x2="107.3" y2="88.9"/><line x1="102.6" y1="91.9" x2="107.3" y2="91.9"/></g>
<g stroke="#4d80c4" stroke-width="1.7"><line x1="108.6" y1="86" x2="113.2" y2="86"/><line x1="108.6" y1="88.9" x2="113.2" y2="88.9"/><line x1="108.6" y1="91.9" x2="113.2" y2="91.9"/></g>
<g stroke="#ffffff" stroke-width="0.6" opacity="0.9"><line x1="101.3" y1="87.45" x2="114.7" y2="87.45"/><line x1="101.3" y1="90.4" x2="114.7" y2="90.4"/><line x1="107.9" y1="84.3" x2="107.9" y2="93.6"/><line x1="113.7" y1="84.3" x2="113.7" y2="93.6"/></g>
</g>
<g>
<path d="M121.9,84.3 q0,-0.9 0.9,-0.9 h1.1 q0.9,0 0.9,0.9 v2.6 q0,1.2 1.2,1.6 h1 q1,0.3 1,1.3 v3.6 q0,0.9 -0.9,0.9 h-4.3 q-0.9,0 -0.9,-0.9 z" fill="#f8cfcf" stroke="#de7272" stroke-width="1.25" stroke-linejoin="round"/>
<path d="M136.3,84.2 q0,-0.9 -0.9,-0.9 h-1.1 q-0.9,0 -0.9,0.9 v2 q0,1.2 -1.2,1.5 h-1 q-1,0.3 -1,1.3 v4.4 q0,0.9 0.9,0.9 h4.3 q0.9,0 0.9,-0.9 z" fill="#b4d6f3" stroke="#5b8fcb" stroke-width="1.25" stroke-linejoin="round"/>
<rect x="127.1" y="83.5" width="3.8" height="2.9" rx="0.8" fill="#cbcbcb"/>
</g>
</svg>
</body></html>
